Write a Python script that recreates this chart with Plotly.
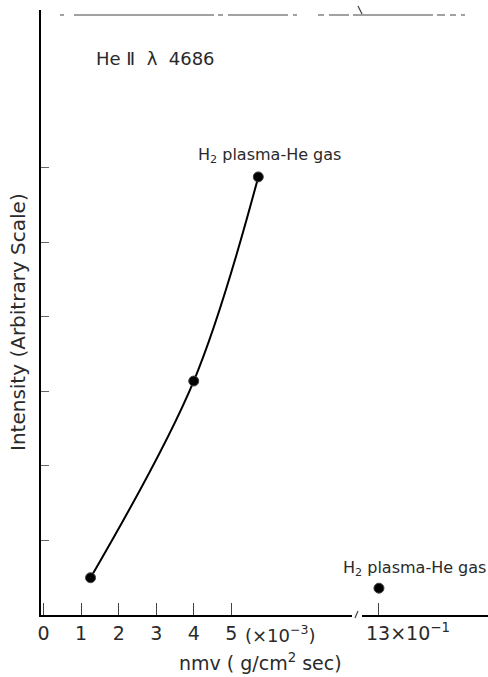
import plotly.graph_objects as go

# data (x in units of 1e-3 g/cm^2 sec, intensity in arbitrary units)
curve_x = [1.25, 4.0, 5.72]
curve_y = [0.50, 3.14, 5.88]
far_x = [13]          # 13 x 10^-1
far_y = [0.36]
x_ticks = [0, 1, 2, 3, 4, 5]
x_ticktext = ["0", "1", "2", "3", "4", "5"]
y_ticks = [1, 2, 3, 4, 5, 6]
far_ticks = [13]
far_ticktext = ["13×10<sup>−1</sup>"]

FONT = "DejaVu Sans"
TXT = "#2a2a2a"

fig = go.Figure()
fig.add_trace(go.Scatter(
    x=curve_x, y=curve_y, mode="lines+markers",
    line=dict(color="black", width=2, shape="spline", smoothing=1.0),
    marker=dict(color="black", size=10, line=dict(color="#444", width=1)),
    showlegend=False, xaxis="x", yaxis="y"))
fig.add_trace(go.Scatter(
    x=far_x, y=far_y, mode="markers",
    marker=dict(color="black", size=10, line=dict(color="#444", width=1)),
    showlegend=False, xaxis="x2", yaxis="y"))

fig.update_layout(
    width=488, height=677,
    margin=dict(l=41, r=0, t=10, b=62),
    paper_bgcolor="white", plot_bgcolor="white",
    font=dict(family=FONT, color=TXT, size=17),
    xaxis=dict(domain=[0, 0.696], range=[-0.07, 8.22], anchor="y",
               showgrid=False, zeroline=False, showline=True,
               linecolor="black", linewidth=1.5,
               ticks="inside", ticklen=12, tickwidth=1.2, tickcolor="#444",
               tickvals=x_ticks, ticktext=x_ticktext,
               tickfont=dict(size=19, color=TXT, family=FONT)),
    xaxis2=dict(domain=[0.718, 1], range=[12.5, 16.206], anchor="y",
                showgrid=False, zeroline=False, showline=True,
                linecolor="black", linewidth=1.5,
                ticks="inside", ticklen=12, tickwidth=1.2, tickcolor="#444",
                tickvals=far_ticks, ticktext=far_ticktext, ticklabelshift=29,
                tickfont=dict(size=19, color=TXT, family=FONT)),
    yaxis=dict(range=[0, 8.12], showgrid=False, zeroline=False,
               showline=True, linecolor="black", linewidth=1.5,
               ticks="inside", ticklen=8, tickwidth=1.2, tickcolor="#666",
               tickvals=y_ticks, showticklabels=False),
)

def px(x):
    return (x - 41) / 447

def py(y):
    return (615 - y) / 605

anns = [
    dict(text="He Ⅱ  λ  4686", x=px(94), y=py(58), xanchor="left", size=18),
    dict(text="H<sub>2</sub> plasma-He gas", x=px(196), y=py(155), xanchor="left", size=16),
    dict(text="H<sub>2</sub> plasma-He gas", x=px(341), y=py(568), xanchor="left", size=16),
    dict(text="(×10<sup>−3</sup>)", x=px(243), y=py(634), xanchor="left", size=18),
    dict(text="nmv ( g/cm<sup>2</sup> sec)", x=px(260), y=py(662), xanchor="center", size=19),
]
for a in anns:
    fig.add_annotation(text=a["text"], x=a["x"], y=a["y"], xref="paper", yref="paper",
                       xanchor=a["xanchor"], yanchor="middle", showarrow=False,
                       font=dict(size=a["size"], color=TXT, family=FONT))
fig.add_annotation(text="Intensity (Arbitrary Scale)", x=px(18), y=py(322),
                   xref="paper", yref="paper", textangle=-90, showarrow=False,
                   xanchor="center", yanchor="middle",
                   font=dict(size=20, color=TXT, family=FONT))

# broken top frame and axis-break marks
shapes = [
    dict(x0=px(60), x1=px(300), y0=py(15), y1=py(15), dash="4px,10px,140px,4px,5px,5px,60px,5px"),
    dict(x0=px(318), x1=px(465), y0=py(15), y1=py(15), dash="6px,5px,20px,4px,80px,4px,8px,5px"),
    dict(x0=px(355), x1=px(358), y0=py(618), y1=py(611), dash="solid"),
    dict(x0=px(358), x1=px(362), y0=py(6), y1=py(14), dash="solid"),
]
for s in shapes:
    fig.add_shape(type="line", xref="paper", yref="paper",
                  x0=s["x0"], x1=s["x1"], y0=s["y0"], y1=s["y1"],
                  line=dict(color="#444", width=1.2, dash=s["dash"]))

fig.write_html("out.html", config={"displayModeBar": False},
               post_script="document.body.style.margin='0';document.body.style.overflow='hidden';")
